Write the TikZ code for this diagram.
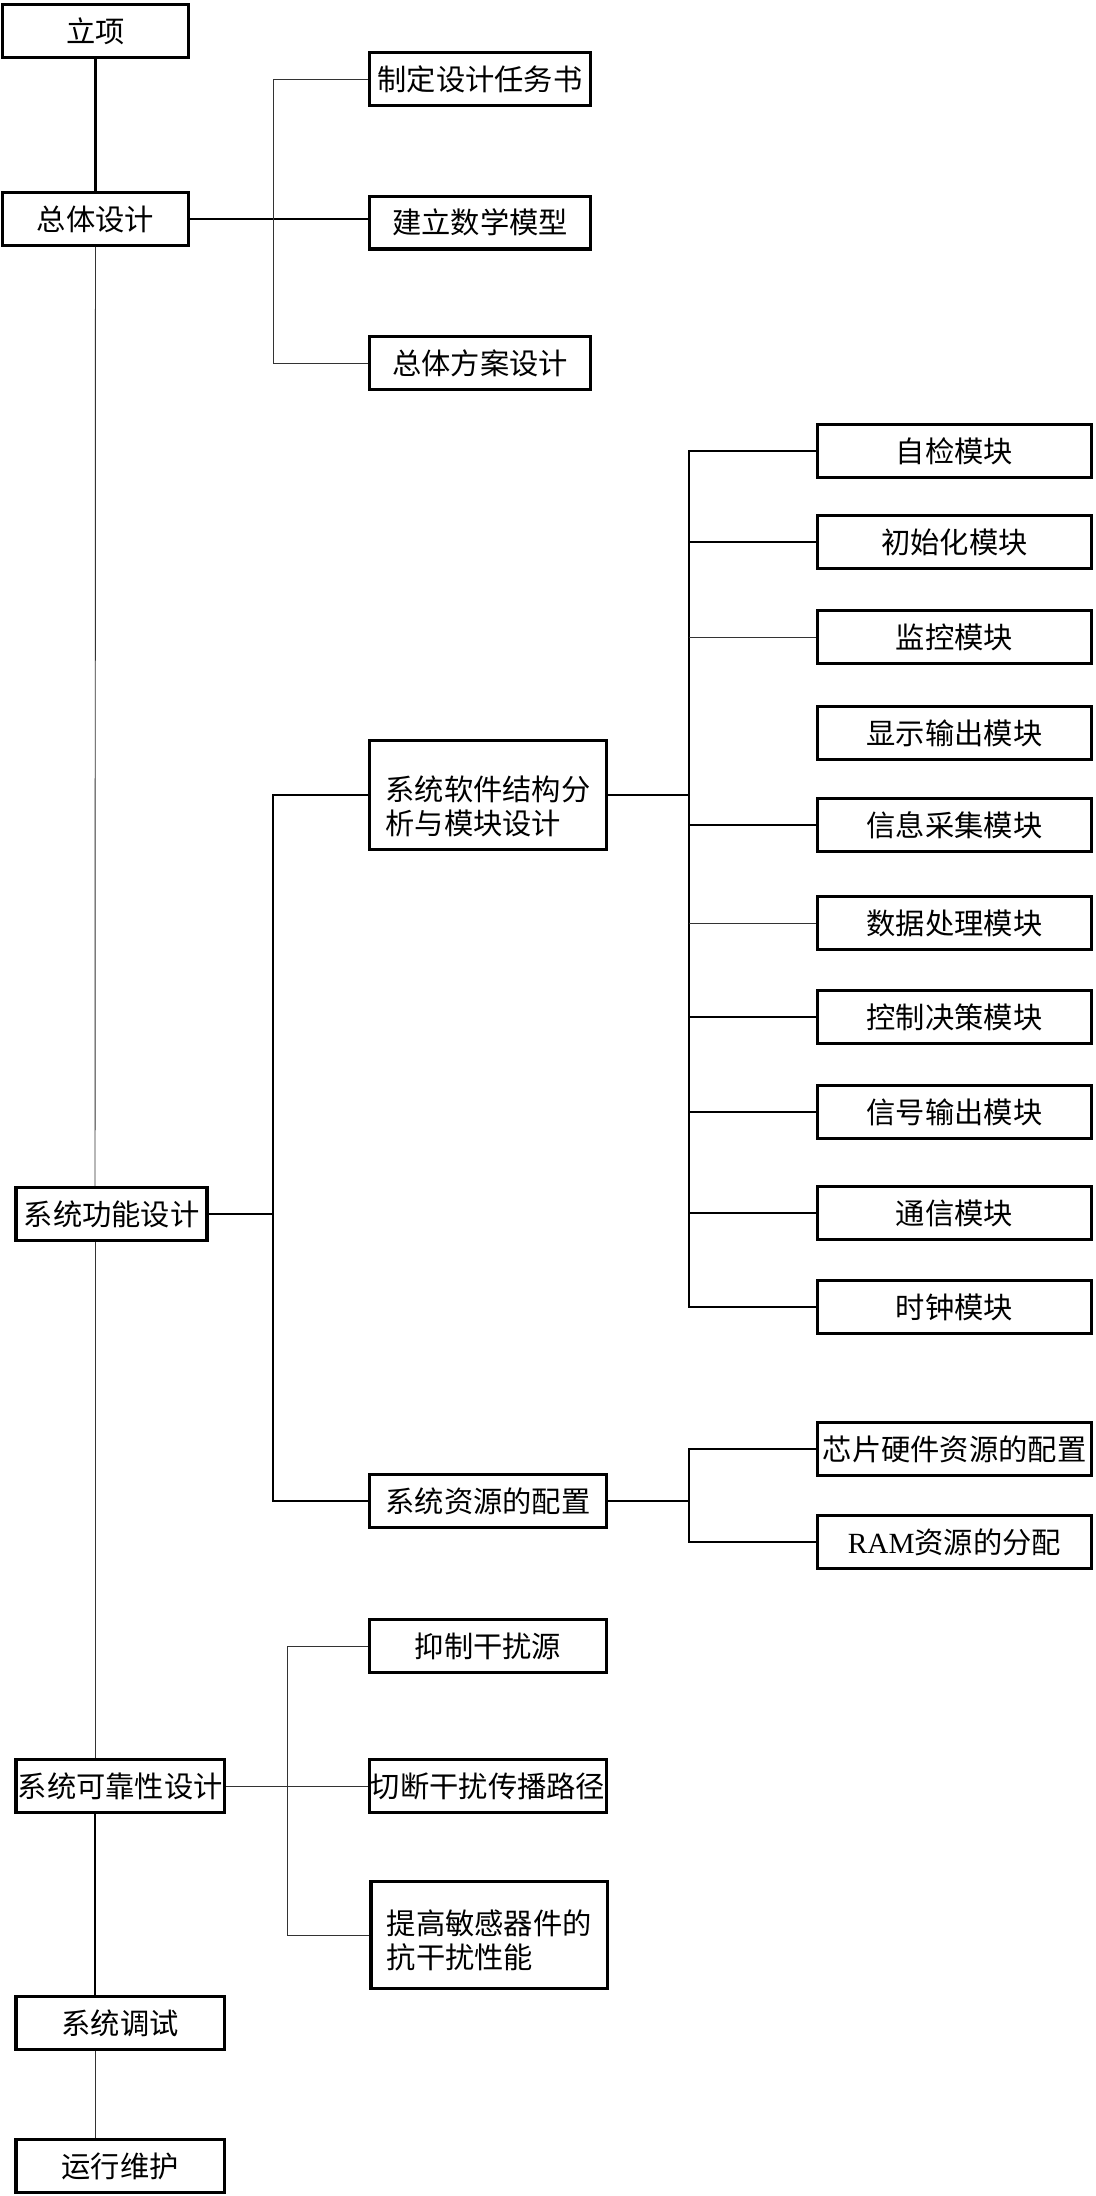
\documentclass[tikz,border=0pt]{standalone}
\usepackage{fontspec}
\setmainfont{Liberation Serif}
\newfontfamily\cjk{Noto Sans CJK SC}
\usepackage{tikz}
\tikzset{
  stagebox/.style={draw=black, line width=2.8pt, inner xsep=1pt, minimum height=1.58cm, font={\cjk\fontsize{25}{29}\selectfont}},
  leftbox/.style={stagebox, minimum width=6.25cm},
  taskbox/.style={stagebox, minimum width=7.1cm},
  modbox/.style={stagebox, minimum width=8.21cm},
  heavylink/.style={line width=2.2pt, draw=black},
  midlink/.style={line width=1.1pt, draw=black},
  thinlink/.style={line width=0.8pt, draw=black!80},
}

\begin{document}
\begin{tikzpicture}
\useasboundingbox (0,0) rectangle (32.85,65.88);
% main stages
\node[stagebox, minimum width=5.58cm] (lixiang) at (2.865,64.95) {立项};
\node[stagebox, minimum width=5.58cm] (zongti) at (2.865,59.31) {总体设计};
\node[stagebox, minimum width=5.73cm] (gongneng) at (3.348,29.46) {系统功能设计};
\node[leftbox] (kekao) at (3.608,12.3) {系统可靠性设计};
\node[leftbox] (tiaoshi) at (3.608,5.19) {系统调试};
\node[leftbox] (weihu) at (3.608,0.9) {运行维护};
% second level
\node[stagebox, minimum width=6.62cm] (zhiding) at (14.4,63.51) {制定设计任务书};
\node[stagebox, minimum width=6.62cm] (jianli) at (14.4,59.2) {建立数学模型};
\node[stagebox, minimum width=6.62cm] (fangan) at (14.4,54.99) {总体方案设计};
\node[taskbox, minimum height=3.26cm, align=left] (ruanjian) at (14.64,42.03) {\rule{0pt}{1.4cm}系统软件结构分\\析与模块设计};
\node[taskbox] (ziyuan) at (14.64,20.85) {系统资源的配置};
\node[taskbox] (yizhi) at (14.64,16.5) {抑制干扰源};
\node[taskbox] (qieduan) at (14.64,12.3) {切断干扰传播路径};
\node[taskbox, minimum height=3.2cm, align=left] (tigao) at (14.68,7.83) {\rule{0pt}{1.05cm}提高敏感器件的\\抗干扰性能};
% modules
\node[modbox] (zijian) at (28.635,52.35) {自检模块};
\node[modbox] (chushihua) at (28.635,49.62) {初始化模块};
\node[modbox] (jiankong) at (28.635,46.77) {监控模块};
\node[modbox] (xianshi) at (28.635,43.89) {显示输出模块};
\node[modbox] (xinxi) at (28.635,41.13) {信息采集模块};
\node[modbox] (shuju) at (28.635,38.19) {数据处理模块};
\node[modbox] (kongzhi) at (28.635,35.37) {控制决策模块};
\node[modbox] (xinhao) at (28.635,32.52) {信号输出模块};
\node[modbox] (tongxin) at (28.635,29.49) {通信模块};
\node[modbox] (shizhong) at (28.635,26.67) {时钟模块};
\node[modbox] (xinpian) at (28.635,22.41) {芯片硬件资源的配置};
\node[modbox] (ram) at (28.635,19.62) {\rmfamily RAM\cjk 资源的分配};
% buses
\coordinate (trunk) at (2.85,0);
\coordinate (busa) at (8.19,0);
\coordinate (busb) at (8.19,0);
\coordinate (busc) at (20.67,0);
\coordinate (busd) at (8.61,0);
% trunk
\draw[heavylink] (lixiang.south) -- (zongti.north);
\draw[thinlink] (zongti.south) -- (trunk |- gongneng.north);
\draw[thinlink] (trunk |- gongneng.south) -- (trunk |- kekao.north);
\draw[heavylink] (trunk |- kekao.south) -- (trunk |- tiaoshi.north);
\draw[thinlink] (trunk |- tiaoshi.south) -- (trunk |- weihu.north);
% overall design
\draw[midlink] (zongti.east) -- (zongti.east -| jianli.west);
\draw[thinlink] (zhiding.west) -| (busa |- fangan.west) -- (fangan.west);
% function design
\draw[midlink] (gongneng.east) -- (busb |- gongneng.east);
\draw[midlink] (ruanjian.west) -| (busb |- ziyuan.west) -- (ziyuan.west);
\draw[midlink] (ruanjian.east) -- (busc |- ruanjian.east);
\draw[midlink] (zijian.west) -| (busc |- shizhong.west) -- (shizhong.west);
\draw[midlink] (busc |- chushihua.west) -- (chushihua.west);
\draw[thinlink] (busc |- jiankong.west) -- (jiankong.west);
\draw[midlink] (busc |- xinxi.west) -- (xinxi.west);
\draw[thinlink] (busc |- shuju.west) -- (shuju.west);
\draw[midlink] (busc |- kongzhi.west) -- (kongzhi.west);
\draw[midlink] (busc |- xinhao.west) -- (xinhao.west);
\draw[midlink] (busc |- tongxin.west) -- (tongxin.west);
\draw[midlink] (ziyuan.east) -- (busc |- ziyuan.east);
\draw[midlink] (xinpian.west) -| (busc |- ram.west) -- (ram.west);
% reliability design
\draw[thinlink] (kekao.east) -- (kekao.east -| qieduan.west);
\draw[thinlink] (yizhi.west) -| (busd |- tigao.west) -- (tigao.west);
\end{tikzpicture}
\end{document}
